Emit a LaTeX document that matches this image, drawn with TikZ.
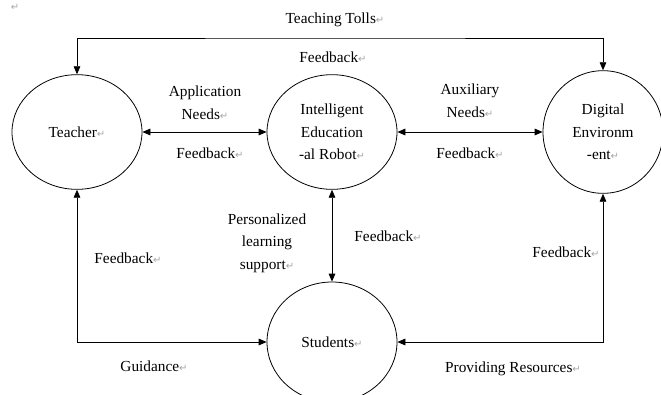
\documentclass[tikz,border=0pt]{standalone}
\usepackage{fontspec}
\setmainfont{Liberation Serif}
\newfontfamily\markfont{DejaVu Sans}
\usetikzlibrary{arrows.meta,shapes.geometric}

% paragraph mark after each text
\newcommand{\pmark}{{\markfont\color{black!35}\fontsize{7.5}{7.5}\selectfont ↵}}

\tikzset{
  actor/.style={draw, ellipse, line width=0.6pt, inner sep=0pt, align=center},
  lbl/.style={align=center, inner sep=1pt},
  biarrow/.style={line width=0.6pt, {Triangle[length=6pt,width=5pt]}-{Triangle[length=6pt,width=5pt]}}
}

\begin{document}
\begin{tikzpicture}[x=0.75pt,y=-0.75pt,font=\fontsize{11.5}{17}\selectfont]
\useasboundingbox (0,0) rectangle (661,394);

% the four parties
\node[actor, minimum width=97.5pt, minimum height=86pt] (teacher) at (77,132) {Teacher\pmark};
\node[actor, minimum width=97.5pt, minimum height=86pt] (robot) at (332,132) {Intelligent\\Education\\-al Robot\pmark};
\node[actor, minimum width=90pt, minimum height=92pt] (digital) at (603,132) {Digital\\Environm\\-ent\pmark};
\node[actor, minimum width=97.5pt, minimum height=90pt] (students) at (332,342) {Students\pmark};

% connectors
\coordinate (topbar) at (330,38);
\draw[biarrow] (teacher.north) |- (topbar) -| (digital.north);
\draw[biarrow] (teacher.east) -- (robot.west);
\draw[biarrow] (robot.east) -- (digital.west);
\draw[biarrow] (robot.south) -- (students.north);
\draw[biarrow] (teacher.south) |- (students.west);
\draw[biarrow] (digital.south) |- (students.east);

% labels
\node[lbl] (tools) at (335,20) {Teaching Tolls\pmark};
\node[lbl] (fbtop) at (333,57) {Feedback\pmark};
\node[lbl] (appneeds) at (205,103) {Application\\Needs\pmark};
\node[lbl] (fbtr) at (210,153) {Feedback\pmark};
\node[lbl] (auxneeds) at (470,101) {Auxiliary\\Needs\pmark};
\node[lbl] (fbrd) at (470,153) {Feedback\pmark};
\node[lbl] (support) at (267,243) {Personalized\\learning\\support\pmark};
\node[lbl] (fbrs) at (388,236) {Feedback\pmark};
\node[lbl] (fbts) at (128,258) {Feedback\pmark};
\node[lbl] (fbds) at (566,252) {Feedback\pmark};
\node[lbl] (guide) at (154,366) {Guidance\pmark};
\node[lbl] (resources) at (513,369) {Providing Resources\pmark};
\node[lbl] (corner) at (15,7) {\pmark};
\end{tikzpicture}
\end{document}
